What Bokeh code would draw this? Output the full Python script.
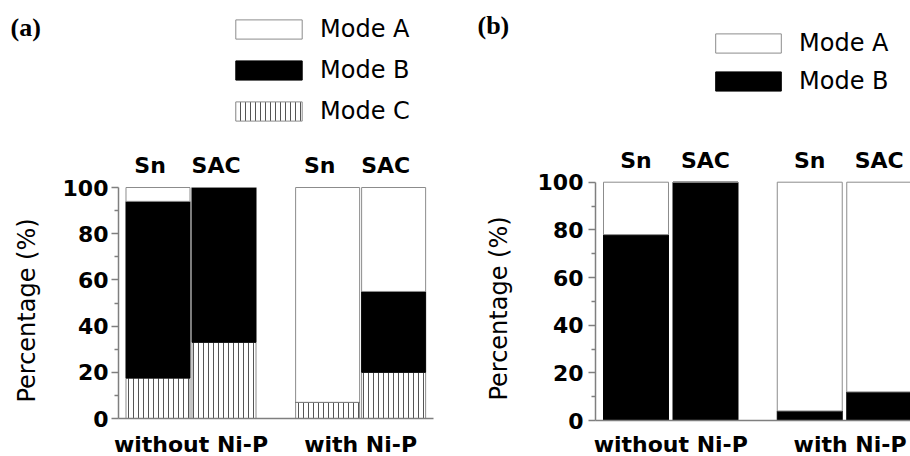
import numpy as np
from bokeh.plotting import figure
from bokeh.models import Range1d, FixedTicker, Legend, LegendItem, ColumnDataSource
from bokeh.layouts import row
from bokeh.embed import file_html
from bokeh.resources import INLINE
from bokeh.core.properties import value

# ---------------- data ----------------
solders = ["Sn", "SAC", "Sn", "SAC"]
conditions = ["without Ni-P", "with Ni-P"]
group_of_bar = [0, 0, 1, 1]
member_of_bar = [0, 1, 0, 1]
y_ticks = [0, 20, 40, 60, 80, 100]
y_minor_ticks = [10, 30, 50, 70, 90]
y_title = "Percentage (%)"

# panel (a): stacked from bottom: Mode C, Mode B, Mode A
a_mode_c = [17.5, 33, 7, 20]
a_mode_b = [76.5, 67, 0, 35]
a_mode_a = [6, 0, 93, 45]

# panel (b): stacked from bottom: Mode B, Mode A
b_mode_b = [78, 100, 4, 12]
b_mode_a = [22, 0, 96, 88]

# ---------------- styles ----------------
AXIS_GRAY = "#7f7f7f"
BAR_EDGE = "#8c8c8c"
FONT = "DejaVu Sans"

STYLE = {
    "Mode A": dict(fill_color="white", line_color=BAR_EDGE),
    "Mode B": dict(fill_color="black", line_color="black"),
    "Mode C": dict(fill_color="white", line_color=BAR_EDGE, hatch_pattern="vertical_line",
                   hatch_color="#555555", hatch_scale=5, hatch_weight=1),
}


def build_panel(tag, series, cfg):
    W, H = 455, 456
    fl, fb = cfg["frame_left"], cfg["frame_bottom"]
    x0, unit, ppu = cfg["x0"], cfg["unit"], cfg["ppu"]

    def dx(px):
        return (px - x0) / unit

    def dy(py):
        return (fb - py) / ppu

    p = figure(width=W, height=H, output_backend="svg", toolbar_location=None,
               x_range=Range1d(dx(0), dx(W)), y_range=Range1d(dy(H), dy(0)),
               min_border_left=0, min_border_right=0, min_border_top=0,
               min_border_bottom=0)
    p.outline_line_color = None
    p.grid.visible = False
    p.background_fill_color = "white"
    p.border_fill_color = "white"

    xs = np.array([g * cfg["gap"] + m for g, m in zip(group_of_bar, member_of_bar)], float)

    bottom = np.zeros(len(xs))
    rends = {}
    for name, vals in series:
        top = bottom + np.array(vals, float)
        src = ColumnDataSource(dict(x=xs, bottom=bottom.copy(), top=top))
        r = p.vbar(x="x", bottom="bottom", top="top", width=cfg["bar_w"], source=src,
                   line_width=1, **STYLE[name])
        rends[name] = r
        bottom = top

    # legend
    names = sorted(rends.keys())
    legend = Legend(items=[LegendItem(label=n, renderers=[rends[n]]) for n in names],
                    location=cfg["legend_loc"], orientation="vertical",
                    border_line_color=None, background_fill_alpha=0,
                    padding=0, margin=0, spacing=cfg["legend_spacing"],
                    glyph_width=cfg["glyph_w"], glyph_height=24,
                    label_standoff=10, label_text_font=FONT,
                    label_text_font_size="24px", label_text_color="black")
    p.add_layout(legend)

    # axes (placed inside the full-panel frame)
    p.xaxis.fixed_location = 0
    p.xaxis.ticker = FixedTicker(ticks=[])
    p.xaxis.bounds = (dx(fl), dx(cfg["xaxis_end"]))
    p.xaxis.axis_line_color = AXIS_GRAY
    p.xaxis.axis_line_width = 1.5
    p.xaxis.major_tick_out = 0
    p.xaxis.major_tick_in = 0
    p.xaxis.minor_tick_out = 0
    p.xaxis.minor_tick_in = 0
    p.xaxis.major_label_text_font_size = "0px"

    p.yaxis.fixed_location = dx(fl)
    p.yaxis.ticker = FixedTicker(ticks=y_ticks, minor_ticks=y_minor_ticks)
    p.yaxis.bounds = (0, 100)
    p.yaxis.axis_line_color = AXIS_GRAY
    p.yaxis.axis_line_width = 1.5
    p.yaxis.major_tick_line_color = AXIS_GRAY
    p.yaxis.minor_tick_line_color = AXIS_GRAY
    p.yaxis.major_tick_line_width = 1.5
    p.yaxis.minor_tick_line_width = 1.5
    p.yaxis.major_tick_out = 7
    p.yaxis.major_tick_in = 0
    p.yaxis.minor_tick_out = 4
    p.yaxis.minor_tick_in = 0
    p.yaxis.major_label_standoff = cfg["tick_standoff"]
    p.yaxis.major_label_text_font = FONT
    p.yaxis.major_label_text_font_size = "22px"
    p.yaxis.major_label_text_font_style = "bold"
    p.yaxis.major_label_text_color = "black"

    # solder names above bars
    p.text(x=list(xs + cfg["top_offset"]), y=[dy(cfg["top_baseline"])] * len(xs), text=solders,
           text_align="center", text_baseline="alphabetic",
           text_font=value(FONT), text_font_size="22px", text_font_style="bold",
           text_color="black")

    # condition labels below the axis
    cx = [g * cfg["gap"] + 0.5 + cfg["cond_offset"][g] for g in range(len(conditions))]
    p.text(x=cx, y=[dy(cfg["cond_baseline"])] * len(conditions), text=conditions,
           text_align="center", text_baseline="alphabetic",
           text_font=value(FONT), text_font_size="22px", text_font_style="bold",
           text_color="black")

    # y title
    p.text(x=[dx(cfg["ytitle_x"])], y=[dy(cfg["ytitle_y"])], text=[y_title], angle=np.pi / 2,
           text_align="center", text_baseline="middle",
           text_font=value(FONT), text_font_size="24px", text_color="black")

    # panel tag
    p.text(x=[dx(cfg["tag_x"])], y=[dy(cfg["tag_y"])], text=[tag],
           text_align="left", text_baseline="middle",
           text_font=value("Liberation Serif"), text_font_size="26px",
           text_font_style="bold", text_color="black")
    return p


cfg_a = dict(frame_left=118, frame_bottom=418, x0=157.5, unit=66.0, ppu=2.31,
             gap=2.57, bar_w=0.97, xaxis_end=433,
             legend_loc=(227, 331), legend_spacing=13, glyph_w=83,
             tick_standoff=3, top_offset=-0.12, top_baseline=165,
             cond_offset=[0.0, 0.0], cond_baseline=444,
             ytitle_x=26, ytitle_y=310, tag_x=10, tag_y=27)

cfg_b = dict(frame_left=140, frame_bottom=420, x0=180.5, unit=69.5, ppu=2.383,
             gap=2.5, bar_w=0.935, xaxis_end=455,
             legend_loc=(252, 361), legend_spacing=10, glyph_w=82,
             tick_standoff=5, top_offset=0.0, top_baseline=160,
             cond_offset=[0.0, 0.08], cond_baseline=444,
             ytitle_x=43, ytitle_y=308, tag_x=22, tag_y=25)

pa = build_panel("(a)", [("Mode C", a_mode_c), ("Mode B", a_mode_b), ("Mode A", a_mode_a)], cfg_a)
pb = build_panel("(b)", [("Mode B", b_mode_b), ("Mode A", b_mode_a)], cfg_b)

layout = row(pa, pb)
open("out.html", "w").write(file_html(layout, INLINE))
